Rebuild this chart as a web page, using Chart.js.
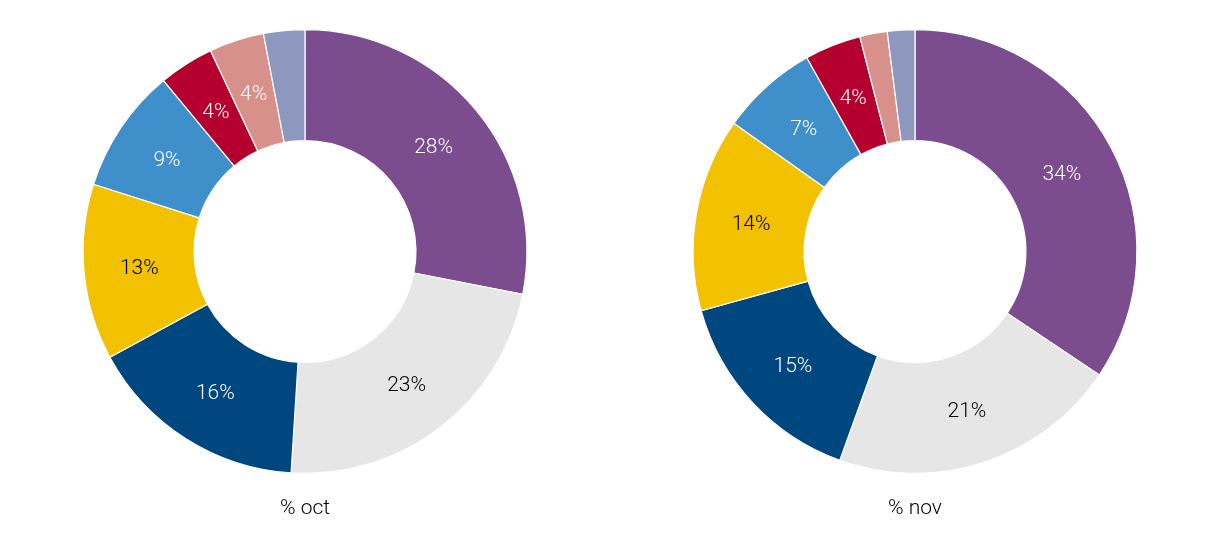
<!DOCTYPE html>
<html>
<head>
<meta charset="utf-8">
<script src="https://cdn.jsdelivr.net/npm/chart.js@4"></script>
<style>
body{margin:0;background:#fff;width:1220px;height:554px;overflow:hidden;display:flex}
.box{width:610px;height:554px;position:relative}
</style>
</head>
<body>
<div class="box"><canvas id="octChart"></canvas></div>
<div class="box"><canvas id="novChart"></canvas></div>
<script>
let segments = ["A","B","C","D","E","F","G","H"]
let octValues = [28.1,22.9,16.1,12.8,9.1,4.0,4.0,3.0]
let novValues = [34.4,21.1,15.2,14.1,7.1,4.1,2.0,2.0]
let octLabels = ["28%","23%","16%","13%","9%","4%","4%",""]
let novLabels = ["34%","21%","15%","14%","7%","4%","",""]
let colors = ["#7b4c8e","#e6e6e6","#00467f","#f2c100","#3f8fcb","#b5002f","#d8908a","#8e98be"]
let textColors = ["#fff","#000","#fff","#000","#fff","#fff","#fff","#fff"]

let labelPlugin = {
id:"segLabels",
afterDatasetsDraw(chart){
let ctx = chart.ctx
let meta = chart.getDatasetMeta(0)
let labels = chart.options.plugins.segLabels.labels
ctx.save()
ctx.font = "300 21px Roboto"
ctx.textAlign = "center"
ctx.textBaseline = "middle"
meta.data.forEach((arc,i)=>{
if(!labels[i]) return
let p = arc.tooltipPosition()
ctx.fillStyle = textColors[i]
ctx.fillText(labels[i],p.x,p.y+2)
})
ctx.fillStyle = "#000"
ctx.fillText(chart.options.plugins.segLabels.title,chart.width/2,509)
ctx.restore()
}
}

function makeChart(id,values,labels,title){
new Chart(document.getElementById(id),{
type:"doughnut",
data:{
labels:segments,
datasets:[{
data:values,
backgroundColor:colors,
borderColor:"#fff",
borderWidth:1.2
}]
},
options:{
responsive:false,
animation:false,
cutout:"50%",
layout:{padding:{top:29,bottom:80,left:0,right:0}},
plugins:{
legend:{display:false},
tooltip:{enabled:false},
segLabels:{labels:labels,title:title}
}
},
plugins:[labelPlugin]
})
}

document.getElementById("octChart").width = 610
document.getElementById("octChart").height = 554
document.getElementById("novChart").width = 610
document.getElementById("novChart").height = 554

makeChart("octChart",octValues,octLabels,"% oct")
makeChart("novChart",novValues,novLabels,"% nov")
</script>
</body>
</html>
